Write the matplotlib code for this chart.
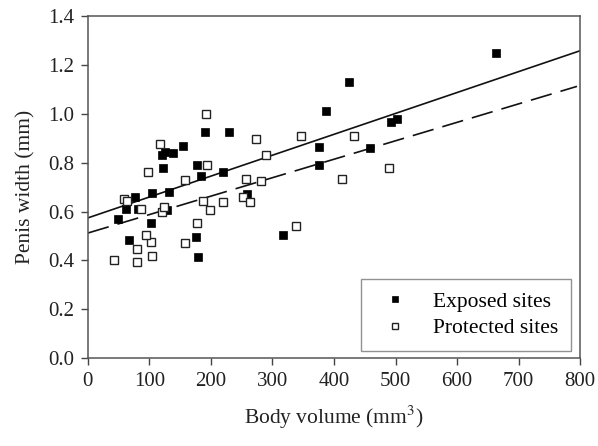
import numpy as np
import matplotlib
matplotlib.use("Agg")
import matplotlib.pyplot as plt

plt.rcParams['font.family'] = ['Liberation Serif', 'DejaVu Serif']
plt.rcParams['mathtext.fontset'] = 'stix'

# exposed sites (filled squares)
exp_x = [663, 425, 387, 492, 502, 376, 458, 375, 190, 229, 155, 120, 125, 138,
         122, 177, 184, 220, 258, 104, 132, 76, 62, 82, 128, 49, 102, 67,
         176, 179, 317, 158]
exp_y = [1.25, 1.13, 1.01, 0.965, 0.98, 0.865, 0.86, 0.79, 0.925, 0.925, 0.87,
         0.83, 0.845, 0.84, 0.78, 0.79, 0.745, 0.76, 0.67, 0.675, 0.68, 0.66,
         0.61, 0.61, 0.605, 0.57, 0.555, 0.485, 0.497, 0.415, 0.505, 0.73]

# protected sites (open squares)
pro_x = [42, 80, 104, 80, 102, 94, 158, 177, 338, 187, 198, 220, 252, 263,
         257, 281, 158, 193, 289, 274, 346, 432, 413, 489, 192, 117, 98, 58,
         64, 86, 120, 123]
pro_y = [0.40, 0.393, 0.42, 0.447, 0.475, 0.504, 0.47, 0.553, 0.54, 0.645,
         0.607, 0.64, 0.66, 0.64, 0.735, 0.725, 0.73, 0.79, 0.83, 0.897, 0.91,
         0.91, 0.733, 0.78, 1.0, 0.877, 0.76, 0.65, 0.645, 0.61, 0.60, 0.62]

# fitted lines: intercept, slope
exp_fit = (0.574, 0.000855)
pro_fit = (0.512, 0.000755)

fig = plt.figure(figsize=(5.98, 4.46), dpi=100)
ax = fig.add_axes([0.147, 0.197, 0.823, 0.767])

xl = np.array([0, 800])
ax.plot(xl, exp_fit[0] + exp_fit[1] * xl, color='#111111', lw=1.2, zorder=1)
xd = np.array([0, 795])
ax.plot(xd, pro_fit[0] + pro_fit[1] * xd, color='#111111', lw=1.2,
        dashes=(13, 5.5), zorder=1)

ax.plot(exp_x, exp_y, 's', ms=6, mfc='black', mec='black', mew=0.5,
        label='Exposed sites', zorder=3)
ax.plot(pro_x, pro_y, 's', ms=6, mfc='white', mec='#222222', mew=1.0,
        label='Protected sites', zorder=3)

ax.set_xlim(0, 800)
ax.set_ylim(0, 1.4)
ax.set_xticks(np.arange(0, 801, 100))
ax.set_yticks(np.arange(0, 1.41, 0.2))
ax.set_yticklabels(['%.1f' % v for v in np.arange(0, 1.41, 0.2)])
ax.tick_params(direction='out', length=5, width=1, color='#444444',
               labelsize=15, pad=5, labelcolor='#222222')
for s in ax.spines.values():
    s.set_color('#555555')
    s.set_linewidth(1.1)

ax.set_xlabel('Body volume (mm$^{3}$)', fontsize=15.5, labelpad=9,
              color='#222222')
ax.set_ylabel('Penis width (mm)', fontsize=15.5, labelpad=9, color='#222222')

leg = ax.legend(loc='lower right', bbox_to_anchor=(0.982, 0.02),
                borderaxespad=0, fontsize=15.5, fancybox=False,
                handletextpad=0.75, borderpad=0.6, handlelength=2.0,
                markerscale=0.8, labelspacing=0.3)
leg.get_frame().set_edgecolor('#777777')
leg.get_frame().set_linewidth(1.0)

fig.savefig('out.png', dpi=100)
